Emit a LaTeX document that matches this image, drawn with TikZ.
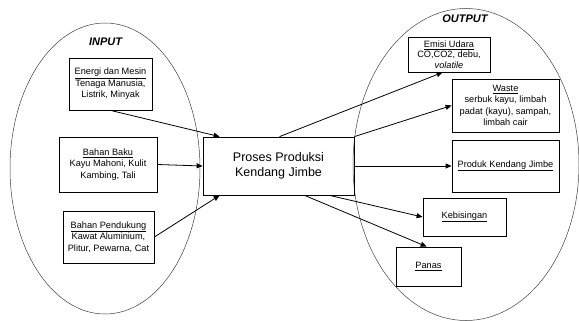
\documentclass[tikz,border=0pt]{standalone}
\usepackage{fontspec}
\setmainfont{Liberation Sans}
\usetikzlibrary{arrows.meta,calc}
\tikzset{
  kotak/.style={draw, line width=0.8pt, align=center, inner sep=1pt, font=\fontsize{9.2}{11.5}\selectfont},
  judul/.style={font=\fontsize{11}{13}\selectfont\bfseries\itshape},
  panah/.style={-{Triangle[length=6pt,width=5pt]}, line width=0.8pt},
  elips/.style={line width=0.5pt, black!75},
}
\begin{document}
\begin{tikzpicture}[x=1pt,y=-1pt]
\useasboundingbox (0,0) rectangle (579,321);

% elips input dan output
\draw[elips] (105,168.5) ellipse [x radius=95, y radius=145.5];
\draw[elips] (466,164.5) ellipse [x radius=113, y radius=156];

\node[judul] (input) at (105.5,42) {INPUT};
\node[judul] (output) at (465,19) {OUTPUT};

% input
\node[kotak, minimum width=83pt, minimum height=52pt] (energi) at (110.5,84) {\underline{Energi dan Mesin}\\Tenaga Manusia,\\Listrik, Minyak};
\node[kotak, minimum width=98pt, minimum height=55pt] (baku) at (108,164.5) {\underline{Bahan Baku}\\Kayu Mahoni, Kulit\\Kambing, Tali};
\node[kotak, minimum width=91pt, minimum height=52pt] (pendukung) at (108.5,237) {\underline{Bahan Pendukung}\\Kawat Aluminium,\\Plitur, Pewarna, Cat};

% proses
\node[kotak, minimum width=151pt, minimum height=58pt, font=\fontsize{12.5}{15}\selectfont] (proses) at (278.5,166) {Proses Produksi\\Kendang Jimbe};

% output
\node[kotak, minimum width=82pt, minimum height=35pt, inner sep=0pt, font=\fontsize{9.2}{10.5}\selectfont] (emisi) at (449,54.5) {\underline{Emisi Udara}\\CO,CO2, debu,\\\textit{volatile}};
\node[kotak, minimum width=107pt, minimum height=53pt] (waste) at (505.5,105.5) {\underline{Waste}\\serbuk kayu, limbah\\padat (kayu), sampah,\\limbah cair};
\node[kotak, minimum width=107pt, minimum height=52pt] (produk) at (505.5,166) {\underline{Produk Kendang Jimbe}};
\node[kotak, minimum width=83pt, minimum height=38pt] (bising) at (464.5,217) {\underline{Kebisingan}};
\node[kotak, minimum width=65pt, minimum height=39pt] (panas) at (428.5,266.5) {\underline{Panas}};

% panah masuk
\draw[panah] (energi.south) -- ($(proses.north west)+(17,0)$);
\draw[panah] (baku.east) -- (proses.west);
\draw[panah] (pendukung.east) -- ($(proses.south west)+(17,0)$);

% panah keluar
\draw[panah] ($(proses.north west)+(77,0)$) -- ($(emisi.south west)+(35,0)$);
\draw[panah] (proses.north east) -- (waste.west);
\draw[panah] (proses.east) -- (produk.west);
\draw[panah] ($(proses.south west)+(127,0)$) -- (bising.west);
\draw[panah] ($(proses.south west)+(102,0)$) -- ($(panas.north west)+(31,0)$);

\end{tikzpicture}
\end{document}
